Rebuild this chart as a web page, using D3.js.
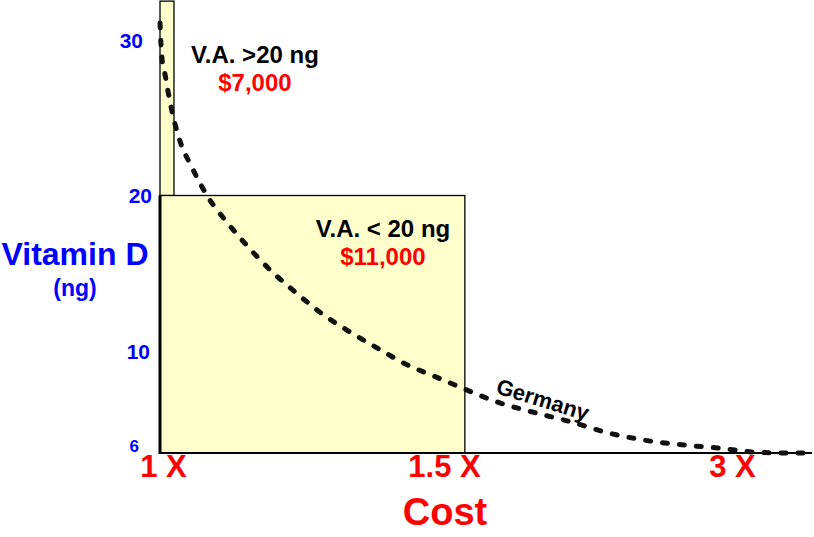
<!DOCTYPE html>
<html>
<head>
<meta charset="utf-8">
<script src="https://cdn.jsdelivr.net/npm/d3@7"></script>
<style>
  body { margin: 0; background: #fff; }
  text { font-family: Arial, "Liberation Sans", sans-serif; font-weight: bold; }
</style>
</head>
<body>
<div id="chart"></div>
<script>
var width = 814,
    height = 537;

// cost index along the x axis (0 = base cost), vitamin D in ng on y
var costTicks = [0.46, 43.7, 88];
var costLabels = ["1 X", "1.5 X", "3 X"];

var vitTicks = [6, 10, 20, 30];

// Germany curve: cost index vs vitamin D level
var curveCost = [0, 0.15, 0.31, 0.77, 1.23, 1.85, 2.92, 4.92, 7.38, 10.46, 13.54, 17.23,
                 20.77, 24.92, 28.92, 33.38, 37.69, 42.31, 46.92, 51.85, 57.38, 63.54,
                 68.77, 74.62, 81.08, 85.85, 91.08, 95.85, 99.2];
var curveVit = [31.1, 29.7, 28.8, 27.8, 26.7, 25.4, 23.7, 21.8, 19.9, 18.2, 16.7, 15.1,
                13.8, 12.4, 11.3, 10.2, 9.5, 9.0, 8.5, 8.0, 7.6, 7.2,
                6.8, 6.5, 6.3, 6.2, 6.04, 6.0, 6.0];

// the two cost blocks
var blockNames = ["V.A. >20 ng", "V.A. < 20 ng"];
var blockCosts = ["$7,000", "$11,000"];
var blockWidth = [2.15, 46.9];
var blockLow = [20, 6];
var blockHigh = [32.5, 20];

var x = d3.scaleLinear()
    .domain([0, 100])
    .range([160, 810]);

// the axis is stretched below 10 ng
var y = d3.scaleLinear()
    .domain([6, 10, 30])
    .range([453, 351, 40]);

var svg = d3.select("#chart").append("svg")
    .attr("width", width)
    .attr("height", height);

var blocks = blockNames.map(function(n, i) {
  return {name: n, cost: blockCosts[i], w: blockWidth[i], lo: blockLow[i], hi: blockHigh[i]};
});

svg.selectAll("rect.block")
    .data(blocks)
    .enter().append("rect")
    .attr("class", "block")
    .attr("x", x(0))
    .attr("y", function(d) { return y(d.hi); })
    .attr("width", function(d) { return x(d.w) - x(0); })
    .attr("height", function(d) { return y(d.lo) - y(d.hi); })
    .style("fill", "#ffffcc")
    .style("stroke", "#000")
    .style("stroke-width", 1.3);

// thick left edge of the lower block
svg.append("line")
    .attr("x1", x(0)).attr("x2", x(0))
    .attr("y1", y(20)).attr("y2", y(6) + 1)
    .style("stroke", "#000")
    .style("stroke-width", 3);

// x axis
var xAxis = svg.append("g")
    .attr("transform", "translate(0," + y(6) + ")")
    .call(d3.axisBottom(x)
      .tickValues(costTicks)
      .tickSize(0)
      .tickFormat(function(d, i) { return costLabels[i]; }));

xAxis.select(".domain")
    .attr("d", "M" + x(0) + ",0H" + (x(100) + 2))
    .style("stroke", "#000")
    .style("stroke-width", 2);

xAxis.selectAll("text")
    .attr("y", 24)
    .attr("dy", 0)
    .style("font-size", "31px")
    .style("fill", "#ff0000");

// y axis labels
var ynudge = {6: -11, 30: -7, 20: 2};
var yAxis = svg.append("g")
    .attr("transform", "translate(150,0)")
    .call(d3.axisLeft(y)
      .tickValues(vitTicks)
      .tickSize(0)
      .tickFormat(d3.format("d")));

yAxis.select(".domain").remove();
yAxis.selectAll("text")
    .attr("x", function(d) { return ynudge[d] || 0; })
    .attr("dy", function(d) { return d == 6 ? "-0.1em" : "0.35em"; })
    .style("font-size", function(d) { return d == 6 ? "17px" : "21px"; })
    .style("fill", "#0000ff");

// Germany cost curve
var pts = curveCost.map(function(c, i) { return [c, curveVit[i]]; });

var line = d3.line()
    .x(function(d) { return x(d[0]); })
    .y(function(d) { return y(d[1]); })
    .curve(d3.curveMonotoneX);

svg.append("path")
    .datum(pts)
    .attr("d", line)
    .style("fill", "none")
    .style("stroke", "#111")
    .style("stroke-width", 5)
    .style("stroke-linecap", "round")
    .style("stroke-dasharray", "5,12");

// block labels
var labelAt = [[14.6, 28.5], [34.3, 17.33]];

blocks.forEach(function(d, i) {
  var lx = x(labelAt[i][0]), ly = y(labelAt[i][1]);
  svg.append("text")
      .attr("x", lx).attr("y", ly)
      .attr("text-anchor", "middle")
      .style("font-size", "24px")
      .style("fill", "#000")
      .text(d.name);
  svg.append("text")
      .attr("x", lx).attr("y", ly + 28)
      .attr("text-anchor", "middle")
      .style("font-size", "24px")
      .style("fill", "#ff0000")
      .text(d.cost);
});

svg.append("text")
    .attr("transform", "translate(495,393)rotate(17)")
    .style("font-size", "22px")
    .style("fill", "#000")
    .text("Germany");

// axis titles
svg.append("text")
    .attr("x", 75).attr("y", 265)
    .attr("text-anchor", "middle")
    .style("font-size", "32px")
    .style("fill", "#0000ff")
    .text("Vitamin D");

svg.append("text")
    .attr("x", 75).attr("y", 296)
    .attr("text-anchor", "middle")
    .style("font-size", "23px")
    .style("fill", "#0000ff")
    .text("(ng)");

svg.append("text")
    .attr("x", 445).attr("y", 525)
    .attr("text-anchor", "middle")
    .style("font-size", "38px")
    .style("fill", "#ff0000")
    .text("Cost");
</script>
</body>
</html>
